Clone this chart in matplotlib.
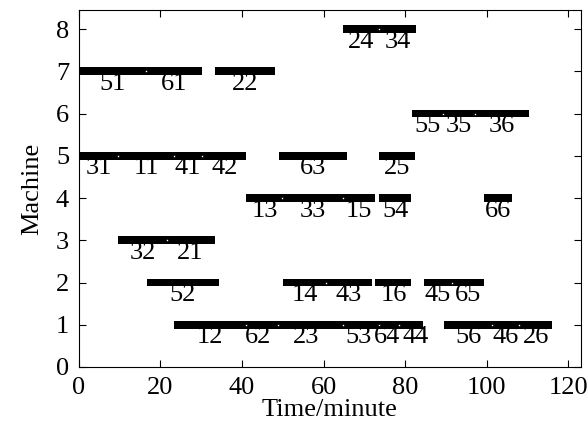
import matplotlib
matplotlib.use('Agg')
import matplotlib.pyplot as plt

plt.rcParams['font.family'] = ['Liberation Serif', 'DejaVu Serif']

# operation label, machine, start, end (minutes)
ops = ['24', '34',
       '51', '61', '22',
       '55', '35', '36',
       '31', '11', '41', '42', '63', '25',
       '13', '33', '15', '54', '66',
       '32', '21',
       '52', '14', '43', '16', '45', '65',
       '12', '62', '23', '53', '64', '44', '56', '46', '26']
machines = [8, 8,
            7, 7, 7,
            6, 6, 6,
            5, 5, 5, 5, 5, 5,
            4, 4, 4, 4, 4,
            3, 3,
            2, 2, 2, 2, 2, 2,
            1, 1, 1, 1, 1, 1, 1, 1, 1]
starts = [64.8, 73.6,
          0, 16.5, 33.3,
          81.6, 89.3, 97.2,
          0, 9.7, 23.3, 30.3, 49.0, 73.5,
          41.1, 49.9, 64.8, 73.7, 99.3,
          9.7, 21.5,
          16.7, 50.0, 60.7, 72.7, 84.6, 91.5,
          23.3, 41.1, 48.9, 64.7, 73.5, 78.4, 89.5, 101.3, 108.0]
ends = [73.6, 82.6,
        16.5, 30.3, 48.0,
        89.3, 97.2, 110.3,
        9.7, 23.3, 30.3, 41.1, 65.8, 82.5,
        49.9, 64.8, 72.7, 81.5, 106.2,
        21.5, 33.3,
        34.4, 60.7, 71.8, 81.5, 91.5, 99.3,
        41.1, 48.9, 64.7, 73.5, 78.4, 84.3, 101.3, 108.0, 116.0]

fig = plt.figure(figsize=(5.88, 4.26), dpi=100)
ax = fig.add_axes([0.134, 0.1385, 0.8535, 0.838])

widths = [e - s for s, e in zip(starts, ends)]
ax.barh(machines, widths, left=starts, height=0.18, color='black', linewidth=0)

# a few labels are crowded, nudge them apart a bit
nudge = {'53': -0.6, '64': -0.3, '44': 1.3, '62': -1.0, '23': -1.0}

for i, op in enumerate(ops):
    mid = (starts[i] + ends[i]) / 2 + nudge.get(op, 0)
    ax.text(mid, machines[i] - 0.3, op, ha='center', va='center', fontsize=19)
    # small white dot where two operations meet on the same machine
    for j in range(len(ops)):
        if j != i and machines[j] == machines[i] and abs(starts[j] - ends[i]) < 0.01:
            ax.plot(ends[i], machines[i], marker='s', markersize=1, color='white',
                    markeredgewidth=0)

ax.set_xlim(0, 123)
ax.set_ylim(0, 8.45)
ax.set_xticks(range(0, 121, 20))
ax.set_yticks(range(0, 9))
ax.tick_params(direction='in', top=True, right=True, length=5, width=0.8,
               labelsize=19, pad=7)
ax.set_xlabel('Time/minute', fontsize=19, labelpad=0)
ax.set_ylabel('Machine', fontsize=19, labelpad=9)

fig.savefig('out.png', dpi=100)
